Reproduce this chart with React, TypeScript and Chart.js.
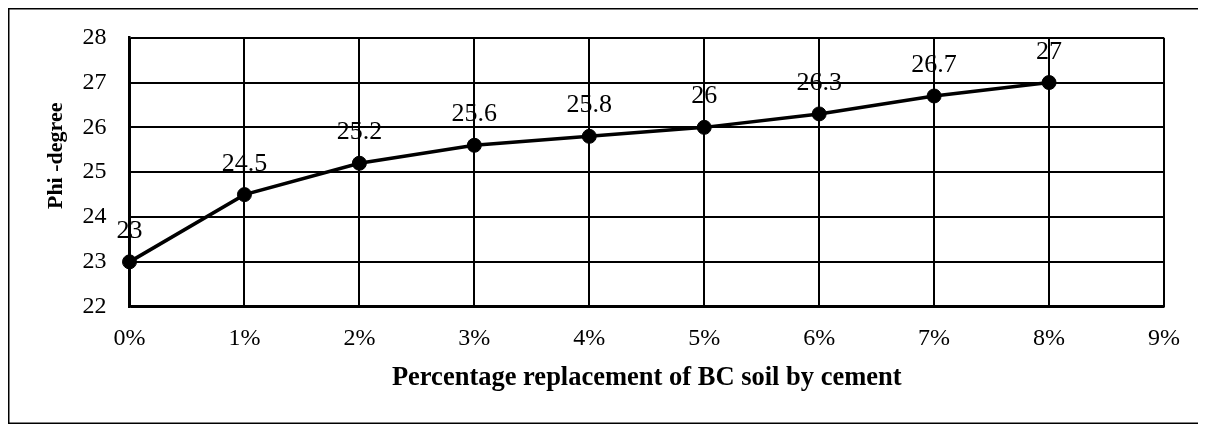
import React, { useEffect, useRef } from "react";
import { Chart, registerables } from "chart.js";

Chart.register(...registerables);

const xPercent = [0, 1, 2, 3, 4, 5, 6, 7, 8];
const phiValues = [23, 24.5, 25.2, 25.6, 25.8, 26, 26.3, 26.7, 27];
const xTitle = "Percentage replacement of BC soil by cement";
const yTitle = "Phi -degree";

const FONT = "'Liberation Serif', 'Times New Roman', serif";

export default function App() {
  const ref = useRef<HTMLCanvasElement | null>(null);

  useEffect(() => {
    document.body.style.overflow = "hidden";
    if (!ref.current) return;
    const labelPlugin = {
      id: "pointLabels",
      afterDatasetsDraw(chart: any) {
        const ctx = chart.ctx;
        const meta = chart.getDatasetMeta(0);
        ctx.save();
        ctx.font = `26px ${FONT}`;
        ctx.fillStyle = "#000";
        ctx.textAlign = "center";
        ctx.textBaseline = "alphabetic";
        meta.data.forEach((pt: any, i: number) => {
          ctx.fillText(String(phiValues[i]), pt.x, pt.y - 24);
        });
        ctx.restore();
      },
    };
    const decorPlugin = {
      id: "decor",
      afterDraw(chart: any) {
        const ctx = chart.ctx;
        ctx.save();
        ctx.strokeStyle = "#000";
        ctx.lineWidth = 1.5;
        ctx.strokeRect(0.75, 0.75, chart.width - 1.5, chart.height - 1.5);
        ctx.translate(48.5, 147.8);
        ctx.rotate(-Math.PI / 2);
        ctx.font = `bold 22px ${FONT}`;
        ctx.fillStyle = "#000";
        ctx.textAlign = "center";
        ctx.textBaseline = "middle";
        ctx.fillText(yTitle, 0, 0);
        ctx.restore();
      },
    };
    const chart = new Chart(ref.current, {
      type: "line",
      data: {
        datasets: [
          {
            data: xPercent.map((x, i) => ({ x, y: phiValues[i] })),
            borderColor: "#000",
            backgroundColor: "#000",
            borderWidth: 3.5,
            pointRadius: 7,
            pointBackgroundColor: "#000",
            pointBorderColor: "#000",
            pointBorderWidth: 1,
            tension: 0,
            clip: false as any,
          },
        ],
      },
      options: {
        responsive: false,
        animation: false,
        devicePixelRatio: 1,
        layout: { padding: { left: 0, right: 40, top: 29.7, bottom: 0 } },
        plugins: {
          legend: { display: false },
          tooltip: { enabled: false },
        },
        scales: {
          x: {
            type: "linear",
            min: 0,
            max: 9,
            afterFit(scale: any) {
              scale.height = 117.3;
              scale.paddingLeft = 0;
              scale.paddingRight = 0;
            },
            ticks: {
              stepSize: 1,
              padding: 18,
              color: "#000",
              font: { family: FONT, size: 24 },
              callback: (v: any) => `${v}%`,
            },
            grid: { color: "#000", lineWidth: 2, drawTicks: false },
            border: { color: "#000", width: 2.5 },
            title: {
              display: true,
              text: xTitle,
              color: "#000",
              font: { family: FONT, size: 26.5, weight: "bold" },
              padding: 30,
            },
          },
          y: {
            min: 22,
            max: 28,
            afterFit(scale: any) {
              scale.width = 121.5;
              scale.paddingTop = 0;
              scale.paddingBottom = 0;
            },
            ticks: {
              stepSize: 1,
              padding: 23,
              color: "#000",
              font: { family: FONT, size: 24 },
            },
            grid: { color: "#000", lineWidth: 2, drawTicks: false },
            border: { color: "#000", width: 2.5 },
            title: { display: false },
          },
        },
      },
      plugins: [labelPlugin, decorPlugin],
    });
    return () => chart.destroy();
  }, []);

  return (
    <div style={{ width: 1196, height: 416 }}>
      <canvas ref={ref} width={1196} height={416} style={{ display: "block" }} />
    </div>
  );
}
